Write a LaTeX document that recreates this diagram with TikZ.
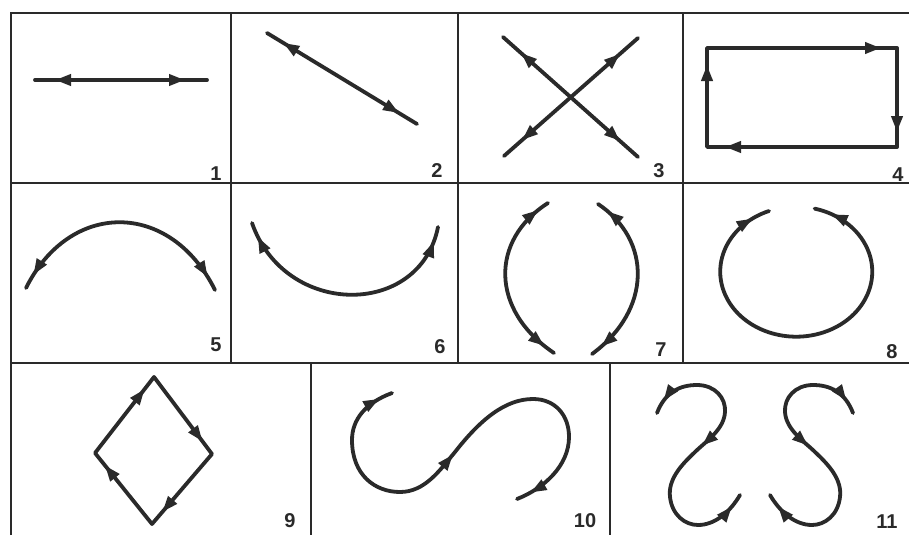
\documentclass[tikz,border=0pt]{standalone}
\usepackage{fontspec}
\setmainfont{Liberation Sans}
\usetikzlibrary{arrows.meta,decorations.markings}
\definecolor{ink}{HTML}{2A2A2A}
\tikzset{
  mv/.style={draw=ink, line width=3.8pt, line cap=round, line join=round},
  frm/.style={draw=ink, line width=2.2pt},
  num/.style={font=\fontsize{20}{20}\selectfont\bfseries, text=ink, inner sep=0pt},
  both/.style 2 args={postaction={decorate,decoration={markings,
      mark=at position #1 with {\arrowreversed{>}},
      mark=at position #2 with {\arrow{>}}}}},
  fwd/.style={postaction={decorate,decoration={markings,
      mark=at position #1 with {\arrow{>}}}}},
  bwd/.style={postaction={decorate,decoration={markings,
      mark=at position #1 with {\arrowreversed{>}}}}},
  >={Triangle[length=16pt,width=11pt]}
}
\begin{document}
\begin{tikzpicture}[x=1pt,y=-1pt]
\useasboundingbox (0,0) rectangle (909,535);
\fill[white] (0,0) rectangle (909,535);
% frame
\draw[frm] (11,535) -- (11,13) -- (909,13);
\draw[frm] (11,183) -- (909,183);
\draw[frm] (11,363) -- (909,363);
\draw[frm] (231,13) -- (231,363);
\draw[frm] (458,13) -- (458,363);
\draw[frm] (683,13) -- (683,363);
\draw[frm] (311,363) -- (311,535);
\draw[frm] (610,363) -- (610,535);
% labels
\node[num] (n1) at (216,174) {1};
\node[num] (n2) at (437,171) {2};
\node[num] (n3) at (659,171) {3};
\node[num] (n4) at (898,175) {4};
\node[num] (n5) at (216,345) {5};
\node[num] (n6) at (440,347) {6};
\node[num] (n7) at (661,350) {7};
\node[num] (n8) at (892,352) {8};
\node[num] (n9) at (290,521) {9};
\node[num] (n10) at (585,521) {10};
\node[num] (n11) at (887,522) {11};
% 1
\draw[mv, both={20pt}{-22pt}] (35,80) -- (207,80);
% 2
\draw[mv, both={19pt}{-21pt}] (267,33) -- (417,124);
% 3
\draw[mv, both={24pt}{-24pt}] (503,37) -- (638,157);
\draw[mv, both={24pt}{-24pt}] (638,38) -- (504,156);
% 4
\draw[mv, postaction={decorate,decoration={markings,
   mark=at position 82pt with {\arrow{>}},
   mark=at position 273pt with {\arrow{>}},
   mark=at position 373pt with {\arrow{>}},
   mark=at position 560pt with {\arrow{>}}}}]
  (707,147) -- (707,48) -- (897,48) -- (897,147) -- cycle;
% 5
\draw[mv, both={15pt}{-15pt}] (26,288) .. controls (70,200) and (170,200) .. (215,290);
% 6
\draw[mv, both={15pt}{-15pt}] (252,223) .. controls (285,318) and (420,318) .. (438,227);
% 7
\draw[mv, both={12pt}{-12pt}] (548,203) .. controls (490,240) and (490,310) .. (554,353);
\draw[mv, both={12pt}{-12pt}] (598,204) .. controls (652,240) and (652,310) .. (592,354);
% 8
\draw[mv, both={18pt}{-18pt}] (769,211) arc[start angle=249, end angle=-76, x radius=76, y radius=65];
% 9
\draw[mv, postaction={decorate,decoration={markings,
   mark=at position 81pt with {\arrow{>}},
   mark=at position 177pt with {\arrow{>}},
   mark=at position 269pt with {\arrow{>}},
   mark=at position 360pt with {\arrow{>}}}}]
  (95,453) -- (154,377) -- (212,454) -- (152,524) -- cycle;
% 10
\draw[mv, bwd=14pt] (392,393) .. controls (365,403) and (352,420) .. (352,440)
   .. controls (352,475) and (375,492) .. (400,492);
\draw[mv, fwd=0.4] (400,492) .. controls (425,492) and (440,470) .. (455,452)
   .. controls (480,420) and (505,399) .. (533,399);
\draw[mv, fwd=-15pt] (533,399) .. controls (555,399) and (569,415) .. (569,437)
   .. controls (569,465) and (545,488) .. (517,499);
% 11
\foreach \s/\o in {1/0,-1/1510}{
\begin{scope}[shift={(\o,0)}, xscale=\s]
\draw[mv, bwd=14pt] (657,413) .. controls (665,392) and (680,385) .. (697,385)
   .. controls (715,385) and (726,398) .. (725,412);
\draw[mv, fwd=0.4] (725,412) .. controls (724,430) and (705,442) .. (695,452)
   .. controls (680,466) and (668,480) .. (670,497);
\draw[mv, fwd=-14pt] (670,497) .. controls (672,515) and (685,525) .. (698,525)
   .. controls (715,525) and (730,512) .. (740,495);
\end{scope}}
\end{tikzpicture}
\end{document}
